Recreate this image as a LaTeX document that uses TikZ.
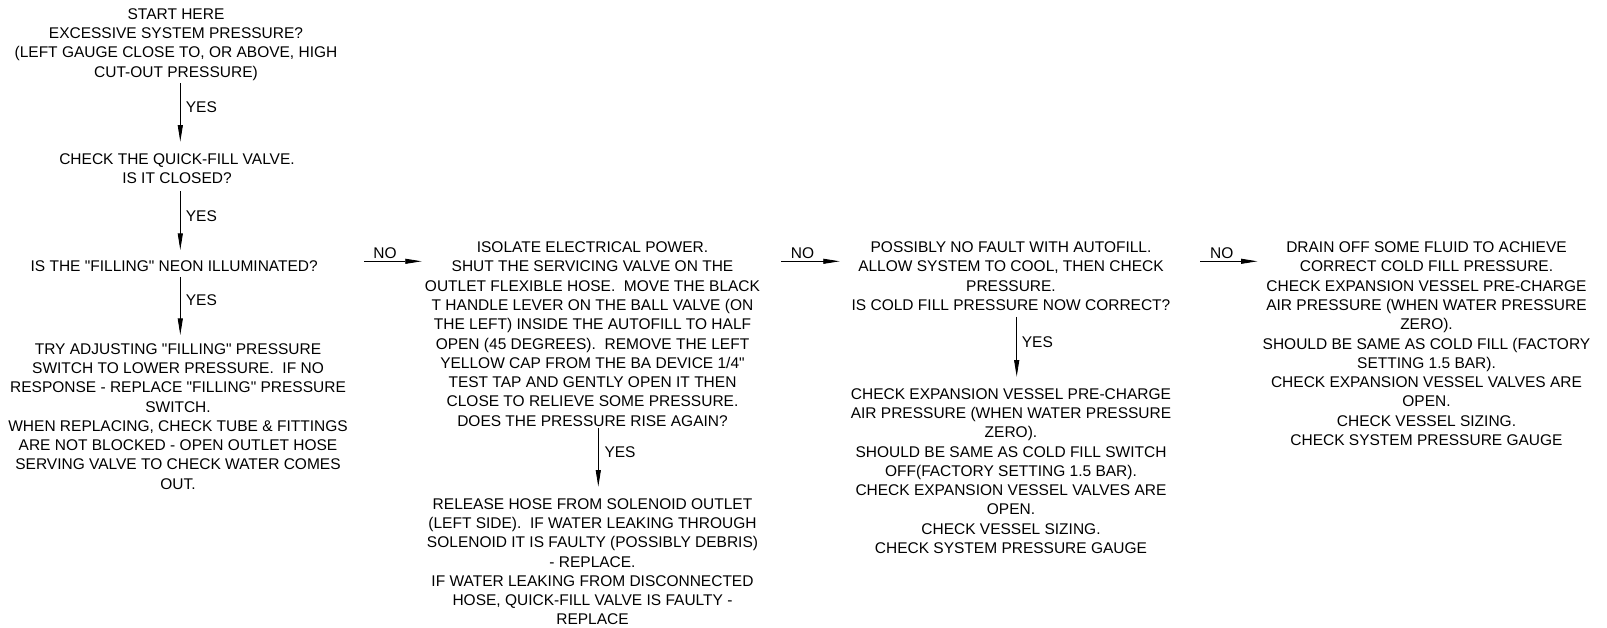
\documentclass[tikz,border=0pt]{standalone}
\usepackage{fontspec}
\setmainfont{Liberation Sans}[Ligatures=TeXOff]
\usetikzlibrary{arrows.meta}
\tikzset{
  txt/.style={align=center, inner sep=0pt, anchor=north, font=\fontsize{15.5}{19.26}\selectfont},
  lbl/.style={inner sep=0pt, font=\fontsize{15.5}{19.26}\selectfont},
  arr/.style={line width=0.9pt, -{Triangle[length=16.5pt,width=5pt]}}
}
\begin{document}
\begin{tikzpicture}[x=1pt,y=-1pt]
\useasboundingbox (0,0) rectangle (1607,628);
\fill[white] (0,0) rectangle (1607,628);
% column / row coordinates
\coordinate (c1) at (180.3,0);
\coordinate (c2) at (598.3,0);
\coordinate (c3) at (1016.7,0);
\coordinate (r1) at (0,261.3);
% nodes
\node[txt] (n1) at (176,8.3) {START HERE\\EXCESSIVE SYSTEM PRESSURE?\\(LEFT GAUGE CLOSE TO, OR ABOVE, HIGH\\CUT-OUT PRESSURE)};
\node[txt] (n2) at (177,153.7) {CHECK THE QUICK-FILL VALVE.\\IS IT CLOSED?};
\node[txt] (n3) at (174.2,260.5) {IS THE "FILLING" NEON ILLUMINATED?};
\node[txt] (n4) at (178,343.3) {TRY ADJUSTING "FILLING" PRESSURE\\SWITCH TO LOWER PRESSURE.\ \ IF NO\\RESPONSE - REPLACE "FILLING" PRESSURE\\SWITCH.\\WHEN REPLACING, CHECK TUBE \& FITTINGS\\ARE NOT BLOCKED - OPEN OUTLET HOSE\\SERVING VALVE TO CHECK WATER COMES\\OUT.};
\node[txt] (n5) at (592.5,241.7) {ISOLATE ELECTRICAL POWER.\\SHUT THE SERVICING VALVE ON THE\\OUTLET FLEXIBLE HOSE.\ \ MOVE THE BLACK\\T HANDLE LEVER ON THE BALL VALVE (ON\\THE LEFT) INSIDE THE AUTOFILL TO HALF\\OPEN (45 DEGREES).\ \ REMOVE THE LEFT\\YELLOW CAP FROM THE BA DEVICE 1/4"\\TEST TAP AND GENTLY OPEN IT THEN\\CLOSE TO RELIEVE SOME PRESSURE.\\DOES THE PRESSURE RISE AGAIN?};
\node[txt] (n6) at (592.5,498.3) {RELEASE HOSE FROM SOLENOID OUTLET\\(LEFT SIDE).\ \ IF WATER LEAKING THROUGH\\SOLENOID IT IS FAULTY (POSSIBLY DEBRIS)\\- REPLACE.\\IF WATER LEAKING FROM DISCONNECTED\\HOSE, QUICK-FILL VALVE IS FAULTY -\\REPLACE};
\node[txt] (n7) at (1011,241.7) {POSSIBLY NO FAULT WITH AUTOFILL.\\ALLOW SYSTEM TO COOL, THEN CHECK\\PRESSURE.\\IS COLD FILL PRESSURE NOW CORRECT?};
\node[txt] (n8) at (1011,388.3) {CHECK EXPANSION VESSEL PRE-CHARGE\\AIR PRESSURE (WHEN WATER PRESSURE\\ZERO).\\SHOULD BE SAME AS COLD FILL SWITCH\\OFF(FACTORY SETTING 1.5 BAR).\\CHECK EXPANSION VESSEL VALVES ARE\\OPEN.\\CHECK VESSEL SIZING.\\CHECK SYSTEM PRESSURE GAUGE};
\node[txt] (n9) at (1426.5,241.7) {DRAIN OFF SOME FLUID TO ACHIEVE\\CORRECT COLD FILL PRESSURE.\\CHECK EXPANSION VESSEL PRE-CHARGE\\AIR PRESSURE (WHEN WATER PRESSURE\\ZERO).\\SHOULD BE SAME AS COLD FILL (FACTORY\\SETTING 1.5 BAR).\\CHECK EXPANSION VESSEL VALVES ARE\\OPEN.\\CHECK VESSEL SIZING.\\CHECK SYSTEM PRESSURE GAUGE};
% vertical connectors
\draw[arr, shorten <=2.8pt, shorten >=12pt] (n1.south -| c1) -- (n2.north -| c1);
\draw[arr, shorten <=6.7pt, shorten >=10.5pt] (n2.south -| c1) -- (n3.north -| c1);
\draw[arr, shorten <=4.9pt, shorten >=8.3pt] (n3.south -| c1) -- (n4.north -| c1);
\draw[arr, shorten <=2pt, shorten >=11.6pt] (n5.south -| c2) -- (n6.north -| c2);
\draw[arr, shorten <=5.9pt, shorten >=11.6pt] (n7.south -| c3) -- (n8.north -| c3);
% horizontal connectors
\draw[arr, shorten <=46.3pt, shorten >=3pt] (n3.east |- r1) -- (n5.west |- r1);
\draw[arr, shorten <=21pt, shorten >=11.7pt] (n5.east |- r1) -- (n7.west |- r1);
\draw[arr, shorten <=29.5pt, shorten >=5pt] (n7.east |- r1) -- (n9.west |- r1);
% labels
\node[lbl, anchor=west] (y1) at (185.7,107) {YES};
\node[lbl, anchor=west] (y2) at (185.7,216) {YES};
\node[lbl, anchor=west] (y3) at (185.7,300.5) {YES};
\node[lbl, anchor=west] (y4) at (604.3,451.7) {YES};
\node[lbl, anchor=west] (y5) at (1021.7,342) {YES};
\node[lbl] (no1) at (385,253.3) {NO};
\node[lbl] (no2) at (802.5,253.3) {NO};
\node[lbl] (no3) at (1221.7,253.3) {NO};
\end{tikzpicture}
\end{document}
